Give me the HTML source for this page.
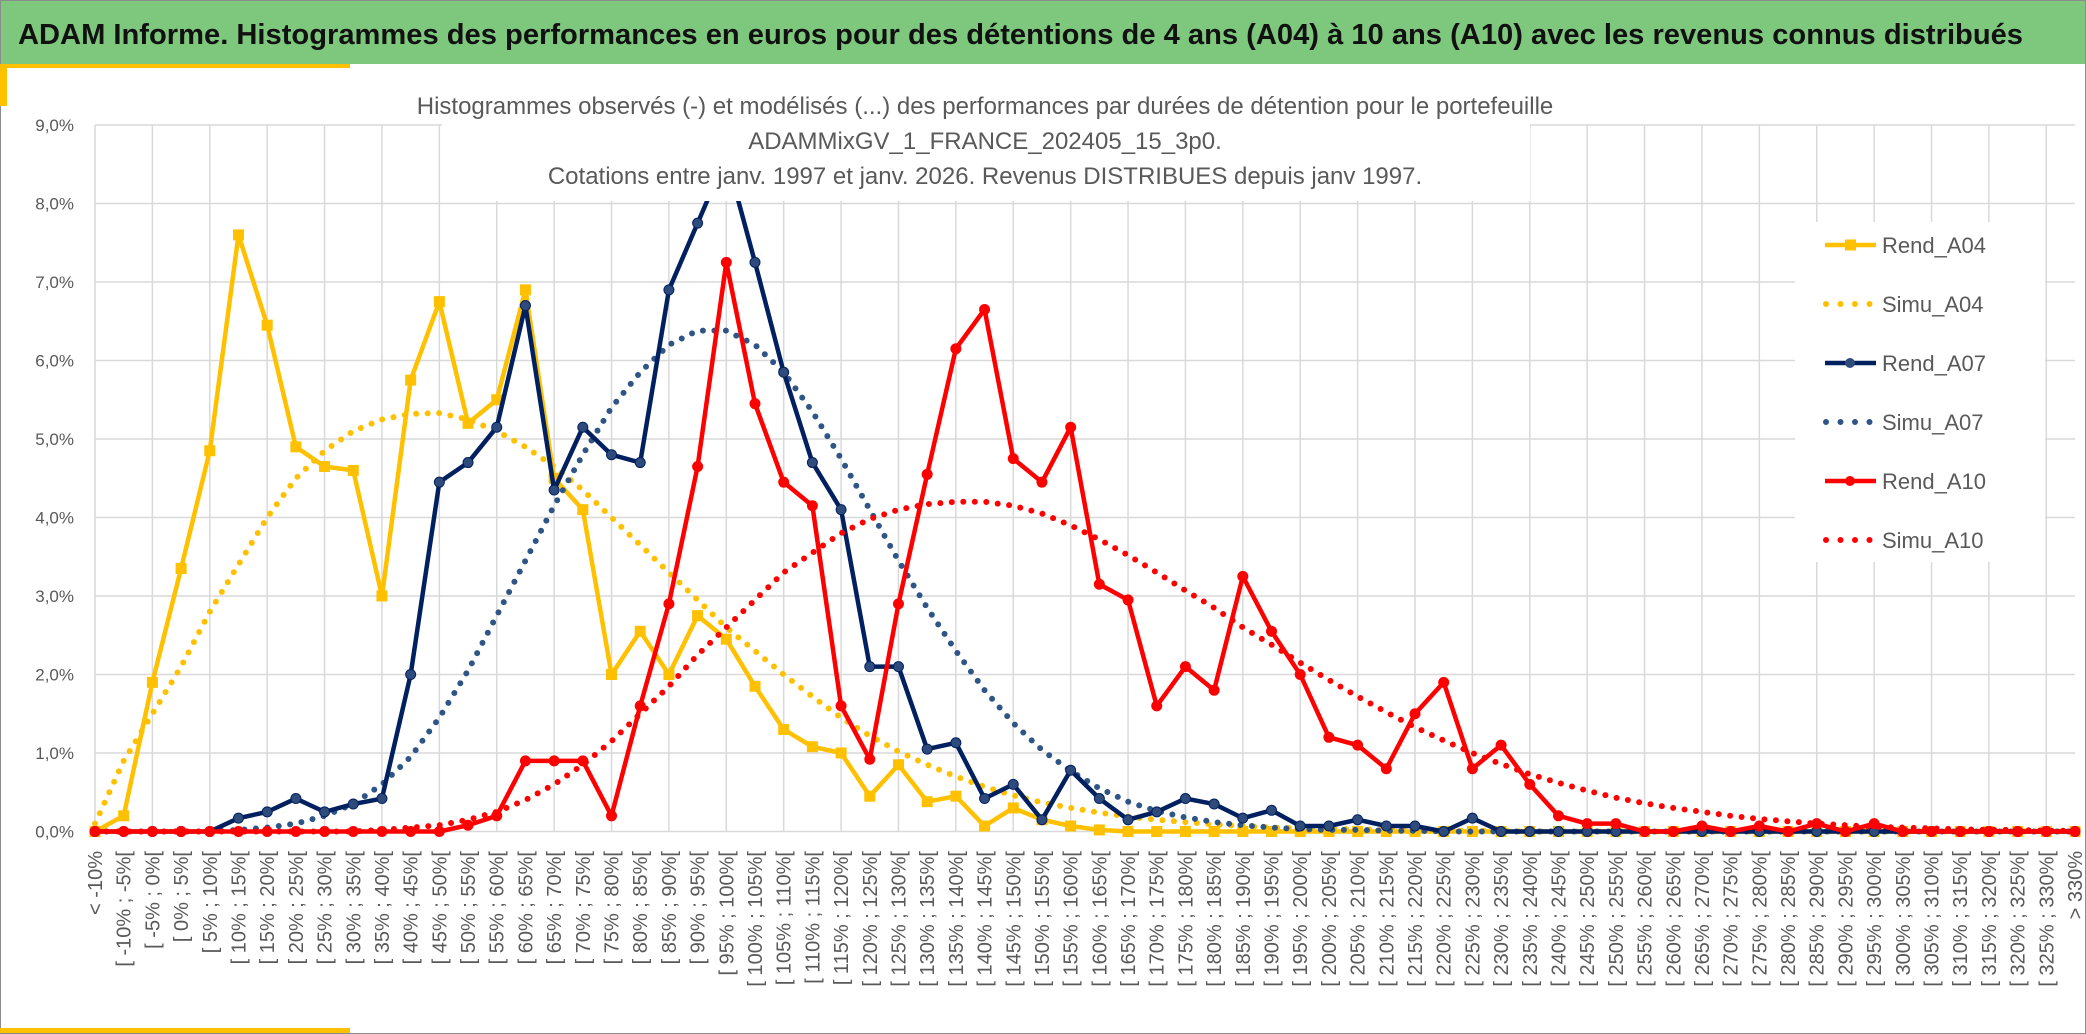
<!DOCTYPE html>
<html><head><meta charset="utf-8"><style>
html,body{margin:0;padding:0;background:#fff}
svg{display:block}
text{font-family:"Liberation Sans Narrow","Liberation Sans",sans-serif}
</style></head><body>
<svg id="chart" width="2086" height="1034" viewBox="0 0 2086 1034" xmlns="http://www.w3.org/2000/svg">
<rect x="0" y="0" width="2086" height="1034" fill="#fff"/>
<rect x="0.5" y="0.5" width="2085" height="1033" fill="none" stroke="#8c8c8c" stroke-width="1"/>
<rect x="1" y="1" width="2084" height="63" fill="#7ec87e"/>
<text x="18" y="44" font-size="29" font-weight="bold" fill="#111" textLength="2005" lengthAdjust="spacingAndGlyphs">ADAM Informe. Histogrammes des performances en euros pour des détentions de 4 ans (A04) à 10 ans (A10) avec les revenus connus distribués</text>
<rect x="0" y="64" width="350" height="4" fill="#ffc000"/>
<rect x="0" y="64" width="7" height="42" fill="#ffc000"/>
<rect x="0" y="1028" width="350" height="5" fill="#ffc000"/>
<g id="grid"></g>
<g id="yaxis"></g>
<g id="xaxis"></g>
<g id="series"></g>
<g font-size="24" fill="#595959" text-anchor="middle">
<rect x="442" y="84" width="1088" height="117" fill="#fff"/>
<text x="985" y="114">Histogrammes observés (-) et modélisés (...) des performances par durées de détention pour le portefeuille</text>
<text x="985" y="149">ADAMMixGV_1_FRANCE_202405_15_3p0.</text>
<text x="985" y="184">Cotations entre janv. 1997 et janv. 2026. Revenus DISTRIBUES depuis janv 1997.</text>
</g>
<g id="legend"></g>
</svg>
<script>
const categories = (function(){const c=["< -10%"];for(let k=1;k<=68;k++){const a=-15+5*k;c.push("[ "+a+"% ; "+(a+5)+"%[");}c.push("> 330%");return c;})();
const yTicks = [0,1,2,3,4,5,6,7,8,9];
const rendA04 = [0,0.2,1.9,3.35,4.85,7.6,6.45,4.9,4.65,4.6,3.0,5.75,6.75,5.2,5.5,6.9,4.5,4.1,2.0,2.55,2.0,2.75,2.45,1.85,1.3,1.08,1.0,0.45,0.85,0.38,0.45,0.07,0.3,0.15,0.07,0.02,0,0,0,0,0,0,0,0,0,0,0,0,0,0,0,0,0,0,0,0,0,0,0,0,0,0,0,0,0,0,0,0,0,0];
const simuA04 = [0.1,0.9,1.5,2.1,2.8,3.4,4.0,4.5,4.85,5.1,5.25,5.32,5.33,5.25,5.1,4.9,4.65,4.35,4.0,3.65,3.3,2.95,2.6,2.3,2.0,1.72,1.45,1.22,1.02,0.85,0.7,0.57,0.46,0.37,0.3,0.24,0.19,0.15,0.12,0.09,0.07,0.05,0.04,0.03,0.03,0.02,0.02,0.01,0.01,0.01,0,0,0,0,0,0,0,0,0,0,0,0,0,0,0,0,0,0,0,0];
const rendA07 = [0,0,0,0,0,0.17,0.25,0.42,0.25,0.35,0.42,2.0,4.45,4.7,5.15,6.7,4.35,5.15,4.8,4.7,6.9,7.75,8.6,7.25,5.85,4.7,4.1,2.1,2.1,1.05,1.13,0.42,0.6,0.15,0.78,0.42,0.15,0.25,0.42,0.35,0.17,0.27,0.07,0.07,0.15,0.07,0.07,0,0.17,0,0,0,0,0,0,0,0,0,0,0,0,0,0,0,0,0,0,0,0,0];
const simuA07 = [0,0,0,0,0,0.02,0.05,0.1,0.2,0.35,0.6,0.95,1.45,2.05,2.75,3.45,4.15,4.8,5.4,5.85,6.2,6.38,6.38,6.2,5.85,5.35,4.75,4.1,3.45,2.85,2.3,1.8,1.38,1.04,0.77,0.55,0.38,0.26,0.18,0.12,0.08,0.05,0.03,0.02,0.02,0.01,0.01,0,0,0,0,0,0,0,0,0,0,0,0,0,0,0,0,0,0,0,0,0,0,0];
const rendA10 = [0,0,0,0,0,0,0,0,0,0,0,0,0,0.08,0.2,0.9,0.9,0.9,0.2,1.6,2.9,4.65,7.25,5.45,4.45,4.15,1.6,0.92,2.9,4.55,6.15,6.65,4.75,4.45,5.15,3.15,2.95,1.6,2.1,1.8,3.25,2.55,2.0,1.2,1.1,0.8,1.5,1.9,0.8,1.1,0.6,0.2,0.1,0.1,0,0,0.07,0,0.07,0,0.1,0,0.1,0,0,0,0,0,0,0];
const simuA10 = [0,0,0,0,0,0,0,0,0,0,0.02,0.05,0.08,0.15,0.25,0.4,0.6,0.85,1.15,1.5,1.85,2.25,2.6,2.95,3.3,3.55,3.8,3.98,4.1,4.17,4.2,4.2,4.15,4.05,3.9,3.72,3.52,3.3,3.07,2.85,2.6,2.38,2.15,1.93,1.72,1.52,1.33,1.16,1.0,0.86,0.73,0.62,0.52,0.43,0.36,0.3,0.25,0.2,0.16,0.13,0.1,0.08,0.06,0.05,0.04,0.03,0.02,0.02,0.01,0.01];
const seriesNames = ["Rend_A04","Simu_A04","Rend_A07","Simu_A07","Rend_A10","Simu_A10"];

const NS="http://www.w3.org/2000/svg";
const X0=95, X1=2075, Y0=831.5, YUNIT=78.5;
function xPos(i){return X0+i*(X1-X0)/(categories.length-1);}
function yPos(v){return Y0-v*YUNIT;}
function mk(tag,attrs,parent){const e=document.createElementNS(NS,tag);for(const k in attrs)e.setAttribute(k,attrs[k]);parent.appendChild(e);return e;}

const grid=document.getElementById('grid');
yTicks.forEach(t=>{
  const l=mk('line',{x1:X0,x2:X1,y1:yPos(t),y2:yPos(t),stroke:'#d9d9d9','stroke-width':1.5},grid);
  
  
});
categories.forEach((c,i)=>{
  if(i%2===0){
    const l=mk('line',{x1:xPos(i),x2:xPos(i),y1:yPos(9),y2:Y0,stroke:'#d9d9d9','stroke-width':1.5},grid);
    
    
  }
});
const ya=document.getElementById('yaxis');
yTicks.forEach(t=>{
  const tx=mk('text',{x:74,y:yPos(t)+6,'font-size':17,fill:'#595959','text-anchor':'end'},ya);
  tx.textContent=t.toFixed(1).replace('.',',')+'%';
  
  
});
const xa=document.getElementById('xaxis');
categories.forEach((c,i)=>{
  const x=xPos(i)+7, y=851;
  const tx=mk('text',{x:x,y:y,'font-size':20,fill:'#595959','text-anchor':'end',transform:'rotate(-90 '+x+' '+y+')'},xa);
  tx.textContent=c;
  
  
});

const S=document.getElementById('series');
function drawSolid(vals,color,marker,name){
  const g=mk('g',{},S);
  
  
  const p=mk('polyline',{points:vals.map((v,i)=>xPos(i)+','+yPos(v)).join(' '),fill:'none',stroke:color,'stroke-width':4.5,'stroke-linejoin':'round'},g);
  
  
  vals.forEach((v,i)=>{
    let m;
    if(marker==='square') m=mk('rect',{x:xPos(i)-5.5,y:yPos(v)-5.5,width:11,height:11,fill:color},g);
    else m=mk('circle',{cx:xPos(i),cy:yPos(v),r:5,fill:marker,stroke:color,'stroke-width':1},g);
    
    
  });
}
function drawDotted(vals,color,name){
  const p=mk('polyline',{points:vals.map((v,i)=>xPos(i)+','+yPos(v)).join(' '),fill:'none',stroke:color,'stroke-width':6,'stroke-linecap':'round','stroke-dasharray':'0 11.5'},S);
  
  
}
drawSolid(rendA04,'#ffc000','square','rend-a04');
drawDotted(simuA04,'#ffc000','simu-a04');
drawDotted(simuA07,'#2f5587','simu-a07');
drawSolid(rendA07,'#002060','#2f4b7c','rend-a07');
drawDotted(simuA10,'#ff0000','simu-a10');
drawSolid(rendA10,'#ff0000','#ff0000','rend-a10');

const L=document.getElementById('legend');
mk('rect',{x:1795,y:222,width:250,height:340,fill:'#fff'},L);
const legColors=['#ffc000','#ffc000','#002060','#2f5587','#ff0000','#ff0000'];
seriesNames.forEach((n,k)=>{
  const y=245+k*59;
  const g=mk('g',{},L);
  
  
  const c=legColors[k];
  if(k%2===0){
    mk('line',{x1:1825,x2:1876,y1:y,y2:y,stroke:c,'stroke-width':4.5},g);
    if(k===0) mk('rect',{x:1845,y:y-5.5,width:11,height:11,fill:c},g);
    else mk('circle',{cx:1850,cy:y,r:5,fill:k===2?'#2f4b7c':c},g);
  } else {
    mk('line',{x1:1826,x2:1876,y1:y,y2:y,stroke:c,'stroke-width':6,'stroke-linecap':'round','stroke-dasharray':'0 14.5'},g);
  }
  const t=mk('text',{x:1882,y:y+8,'font-size':22,fill:'#595959'},g);
  t.textContent=n;
});
</script>
</body></html>
